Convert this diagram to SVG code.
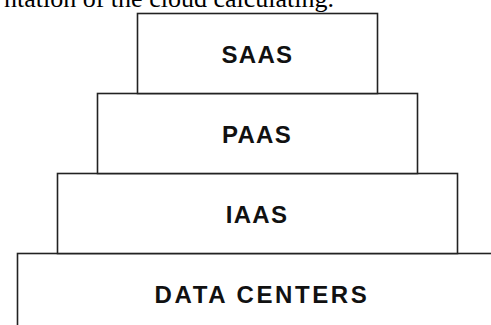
<svg xmlns="http://www.w3.org/2000/svg" width="491" height="325" viewBox="0 0 491 325">
<style>
.box{fill:#fff;stroke:#222;stroke-width:1.6}
.lbl{font-family:"Liberation Sans",Arial,sans-serif;font-weight:bold;font-size:24px;fill:#111;text-anchor:middle;letter-spacing:1.3px}
.cap{font-family:"Liberation Serif","Times New Roman",serif;font-size:26px;fill:#000}
</style>
<rect width="491" height="325" fill="#fff"/>
<text class="cap" x="4" y="7">ntation of the cloud calculating.</text>
<g id="datacenters">
<rect class="box" x="17.5" y="253.5" width="480" height="80"/>
<text class="lbl" x="262" y="303" style="letter-spacing:2.6px">DATA CENTERS</text>
</g>
<g id="iaas">
<rect class="box" x="57.5" y="173.5" width="400" height="80"/>
<text class="lbl" x="257" y="223">IAAS</text>
</g>
<g id="paas">
<rect class="box" x="97.5" y="93.5" width="320" height="80"/>
<text class="lbl" x="257" y="143">PAAS</text>
</g>
<g id="saas">
<rect class="box" x="137.5" y="13.5" width="240" height="80"/>
<text class="lbl" x="257.5" y="63">SAAS</text>
</g>
<g id="connectors"></g>
</svg>
